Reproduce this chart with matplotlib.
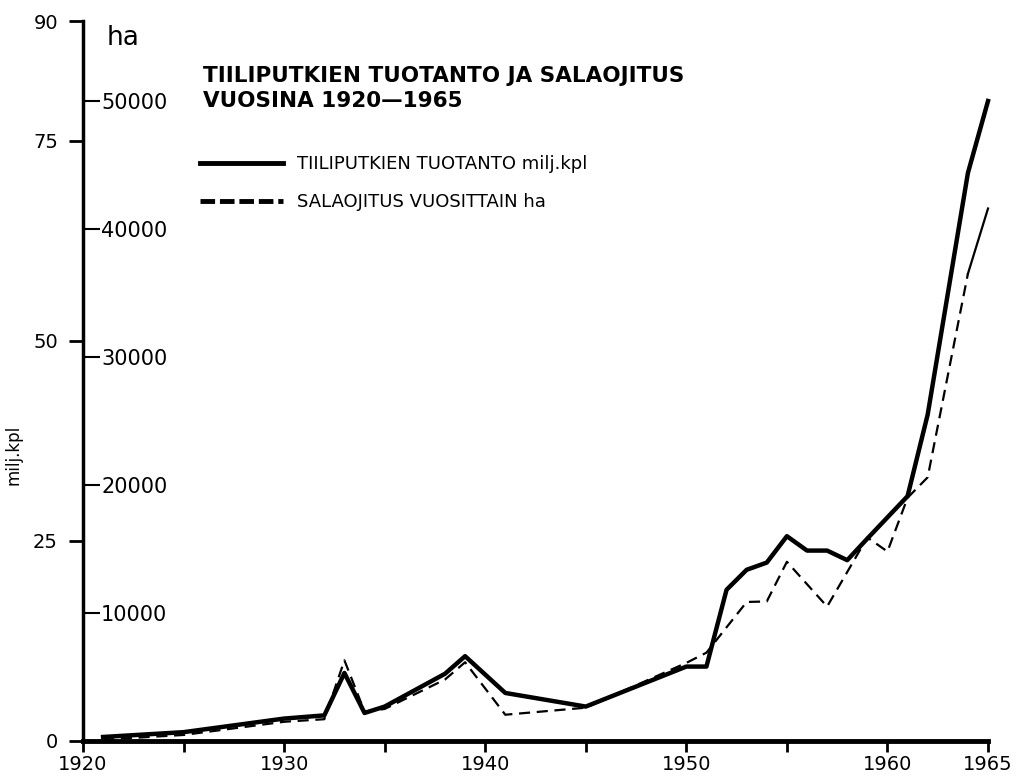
import matplotlib
matplotlib.use('Agg')
import matplotlib.pyplot as plt
from matplotlib.lines import Line2D

# tiiliputkien tuotanto, milj. kpl (vasen asteikko)
prod_years = [1921, 1925, 1930, 1932, 1933, 1934, 1935, 1938, 1939, 1941, 1945,
              1950, 1951, 1952, 1953, 1954, 1955, 1956, 1957, 1958, 1959, 1961,
              1962, 1964, 1965]
prod_milj = [0.5, 1.1, 2.8, 3.2, 8.5, 3.5, 4.3, 8.4, 10.6, 6.0, 4.3,
             9.3, 9.3, 18.9, 21.4, 22.3, 25.6, 23.8, 23.8, 22.6, 25.3, 30.6,
             40.8, 71.0, 80.0]

# salaojitus vuosittain, ha (sisempi asteikko)
drain_years = [1921, 1925, 1930, 1932, 1933, 1934, 1935, 1938, 1939, 1941, 1945,
               1950, 1951, 1953, 1954, 1955, 1957, 1959, 1960, 1961, 1962, 1964, 1965]
drain_ha = [100, 470, 1500, 1700, 6300, 2300, 2500, 4800, 6150, 2050, 2600,
            6100, 6900, 10860, 10900, 14000, 10500, 15900, 14800, 19000, 20600, 36500, 41600]

milj_ticks = [0, 25, 50, 75, 90]
ha_ticks = [10000, 20000, 30000, 40000, 50000]
year_ticks = [1920, 1925, 1930, 1935, 1940, 1945, 1950, 1955, 1960, 1965]
year_labels = ['1920', '', '1930', '', '1940', '', '1950', '', '1960', '1965']

HA_PER_MILJ = 625  # 10000 ha = 16 milj. kpl

fig = plt.figure(figsize=(10.23, 7.78), dpi=100)
ax = fig.add_axes([0.0811, 0.0476, 0.8847, 0.9254])

ax.plot(prod_years, prod_milj, color='black', lw=3.2, solid_joinstyle='round', clip_on=False)

ax2 = ax.twinx()
ax2.set_position(ax.get_position())
ax2.plot(drain_years[:-1], drain_ha[:-1], color='black', lw=1.6, dashes=(5, 3), clip_on=False)
ax2.plot(drain_years[-2:], drain_ha[-2:], color='black', lw=1.6, clip_on=False)

ax.set_xlim(1920, 1965)
ax.set_ylim(0, 90)
ax2.set_ylim(0, 90 * HA_PER_MILJ)

for s in ['top', 'right']:
    ax.spines[s].set_visible(False)
ax.spines['left'].set_linewidth(2.5)
ax.spines['bottom'].set_linewidth(3.5)

ax.set_yticks(milj_ticks)
ax.set_yticklabels([str(v) for v in milj_ticks])
ax.tick_params(axis='y', direction='out', length=10, width=2, pad=8, labelsize=14)
ax.set_xticks(year_ticks)
ax.set_xticklabels(year_labels)
ax.tick_params(axis='x', direction='out', length=8, width=2, pad=2, labelsize=14)
ax.set_ylabel('milj.kpl', fontsize=12)
ax.yaxis.set_label_coords(-0.067, 0.397)

# ha-asteikko akselin sisäpuolelle
for s in ['top', 'bottom', 'left']:
    ax2.spines[s].set_visible(False)
ax2.spines['right'].set_position(('axes', 0))
ax2.spines['right'].set_visible(False)
ax2.yaxis.set_ticks_position('right')
ax2.set_yticks(ha_ticks)
ax2.set_yticklabels([str(v) for v in ha_ticks])
ax2.tick_params(axis='y', direction='out', length=12, width=1.5, pad=1, labelsize=15)

fig.text(0.1046, 0.951, 'ha', fontsize=19, va='center', ha='left')
fig.text(0.198, 0.915, 'TIILIPUTKIEN TUOTANTO JA SALAOJITUS\nVUOSINA 1920\u20141965',
         fontsize=15.5, fontweight='bold', va='top', ha='left', linespacing=1.3)

handles = [Line2D([], [], color='black', lw=3.5),
           Line2D([], [], color='black', lw=3.5, dashes=(3, 1))]
labels = ['TIILIPUTKIEN TUOTANTO milj.kpl', 'SALAOJITUS VUOSITTAIN ha']
fig.legend(handles, labels, loc='upper left', bbox_to_anchor=(200 / 1023, 1 - 155 / 778),
           frameon=False, fontsize=13, handlelength=4.6, handletextpad=0.75,
           labelspacing=1.1, borderpad=0, borderaxespad=0)

fig.savefig('out.png', dpi=100)
